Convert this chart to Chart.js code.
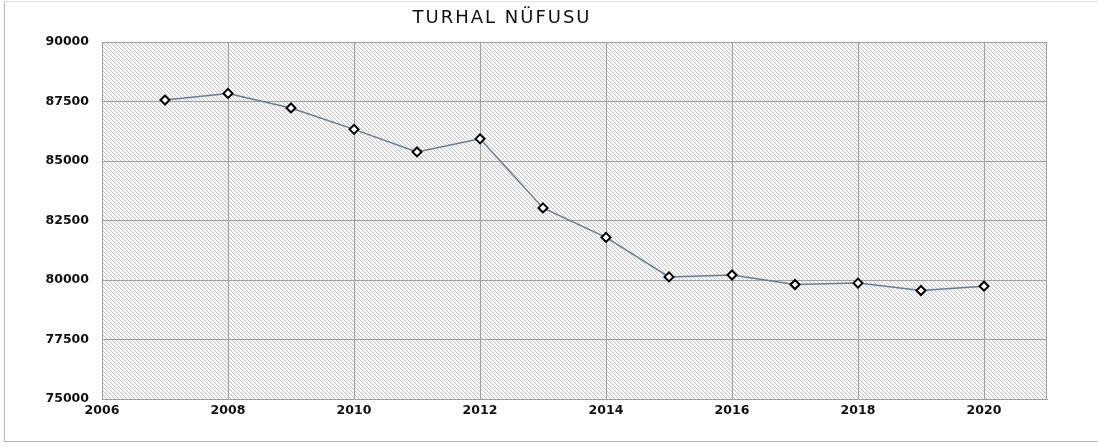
<!DOCTYPE html>
<html>
<head>
<meta charset="utf-8">
<script src="https://cdn.jsdelivr.net/npm/chart.js@4.4.0/dist/chart.umd.min.js"></script>
<style>
  html, body { margin: 0; padding: 0; background: #fff; }
  #wrap { position: relative; width: 1098px; height: 447px; }
  #frame { position: absolute; left: 4px; top: 1px; width: 1200px; height: 441px;
           border-left: 1px solid #b8b8b8; border-top: 1px solid #e4e4e4; border-bottom: 1px solid #b8b8b8; box-sizing: border-box; }
  canvas { position: absolute; left: 0; top: 0; }
</style>
</head>
<body>
<div id="wrap">
  <div id="frame"></div>
  <canvas id="c" width="1098" height="447"></canvas>
</div>
<script>
const chartTitle = "TURHAL NÜFUSU";
const years = [2007, 2008, 2009, 2010, 2011, 2012, 2013, 2014, 2015, 2016, 2017, 2018, 2019, 2020];
const population = [87560, 87840, 87230, 86330, 85380, 85930, 83030, 81790, 80130, 80210, 79810, 79870, 79560, 79740];
const yTicks = [75000, 77500, 80000, 82500, 85000, 87500, 90000];
const xTicks = [2006, 2008, 2010, 2012, 2014, 2016, 2018, 2020];

function makeHatch() {
  const p = document.createElement('canvas');
  p.width = 4; p.height = 4;
  const g = p.getContext('2d');
  g.fillStyle = '#fafafa';
  g.fillRect(0, 0, 4, 4);
  g.fillStyle = '#cdcdcd';
  for (let i = 0; i < 4; i++) g.fillRect(i, i, 1, 1);
  g.fillStyle = '#ebebeb';
  for (let i = 0; i < 4; i++) g.fillRect((i + 1) % 4, i, 1, 1);
  return p;
}

const bgPlugin = {
  id: 'hatchBg',
  beforeDraw(chart) {
    const { ctx, chartArea: a } = chart;
    ctx.save();
    ctx.fillStyle = ctx.createPattern(makeHatch(), 'repeat');
    ctx.fillRect(a.left, a.top, a.right - a.left, a.bottom - a.top);
    ctx.restore();
  }
};

const titlePlugin = {
  id: 'customTitle',
  afterDraw(chart) {
    const ctx = chart.ctx;
    ctx.save();
    ctx.font = '18px "DejaVu Sans"';
    ctx.letterSpacing = '2px';
    ctx.fillStyle = '#111';
    ctx.textAlign = 'center';
    ctx.textBaseline = 'middle';
    ctx.fillText(chartTitle, 502, 18);
    ctx.restore();
  }
};

const borderPlugin = {
  id: 'plotBorder',
  afterDraw(chart) {
    const { ctx, chartArea: a } = chart;
    ctx.save();
    ctx.strokeStyle = '#a0a0a0';
    ctx.lineWidth = 1;
    ctx.beginPath();
    ctx.moveTo(a.left + 0.5, a.top + 0.5);
    ctx.lineTo(a.right - 0.5, a.top + 0.5);
    ctx.lineTo(a.right - 0.5, a.bottom - 0.5);
    ctx.stroke();
    ctx.restore();
  }
};

new Chart(document.getElementById('c'), {
  type: 'line',
  data: {
    datasets: [{
      data: years.map((y, i) => ({ x: y, y: population[i] })),
      borderColor: '#687c96',
      borderWidth: 1.5,
      pointStyle: 'rectRot',
      pointRadius: 4.5,
      pointBorderWidth: 2,
      pointBackgroundColor: '#ffffff',
      pointBorderColor: '#000000',
      tension: 0
    }]
  },
  options: {
    responsive: false,
    animation: false,
    devicePixelRatio: 1,
    layout: { padding: { left: 0, right: 51, top: 42, bottom: 0 } },
    plugins: { legend: { display: false }, title: { display: false }, tooltip: { enabled: false } },
    scales: {
      x: {
        type: 'linear',
        min: 2006,
        max: 2021,
        afterBuildTicks(scale) { scale.ticks = xTicks.map(v => ({ value: v })); },
        afterFit(scale) { scale.height = 48; },
        grid: { color: '#a0a0a0', lineWidth: 1, drawTicks: false },
        border: { color: '#a0a0a0' },
        ticks: {
          padding: 4,
          color: '#111',
          font: { family: 'DejaVu Sans', size: 12.5, weight: 'bold' },
          maxRotation: 0,
          callback: v => String(v)
        }
      },
      y: {
        min: 75000,
        max: 90000,
        afterBuildTicks(scale) { scale.ticks = yTicks.map(v => ({ value: v })); },
        afterFit(scale) { scale.width = 102; },
        grid: { color: '#a0a0a0', lineWidth: 1, drawTicks: false },
        border: { color: '#a0a0a0' },
        ticks: {
          padding: 13,
          color: '#111',
          font: { family: 'DejaVu Sans', size: 12.5, weight: 'bold' },
          callback: v => String(v)
        }
      }
    }
  },
  plugins: [bgPlugin, titlePlugin, borderPlugin]
});
</script>
</body>
</html>
